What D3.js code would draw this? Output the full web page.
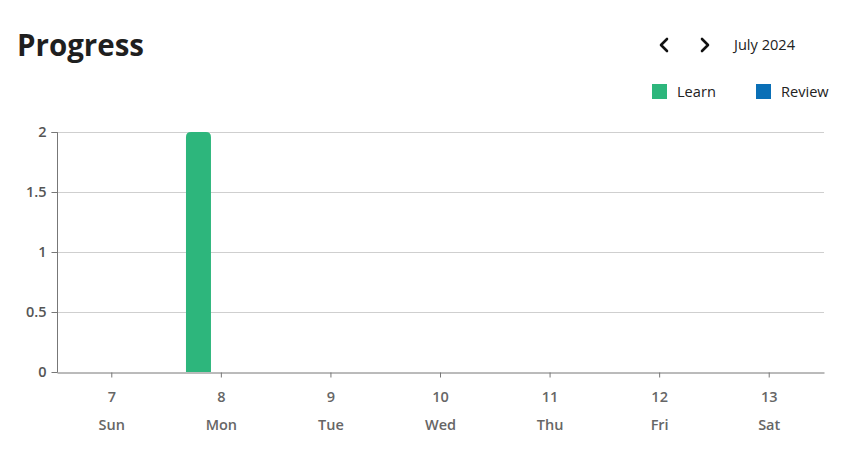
<!DOCTYPE html>
<html><head><meta charset="utf-8">
<script src="https://cdn.jsdelivr.net/npm/d3@7"></script>
<style>
body{margin:0;background:#fff;font-family:"Open Sans",sans-serif;}
</style></head>
<body><svg id="c" width="852" height="462"></svg>
<script>
const days = ["7","8","9","10","11","12","13"];
const dayNames = ["Sun","Mon","Tue","Wed","Thu","Fri","Sat"];
const seriesNames = ["Learn","Review"];
const learn = [0,2,0,0,0,0,0];
const review = [0,0,0,0,0,0,0];
const yTicks = [0,0.5,1,1.5,2];
const colors = ["#2db67c","#0a6fb6"];

const svg = d3.select("#c");
const x = d3.scaleBand().domain(days).range([57,824]).padding(0);
const x1 = d3.scaleBand().domain(seriesNames).range([0,x.bandwidth()]).paddingInner(0.454).paddingOuter(0.424);
const y = d3.scaleLinear().domain([0,2]).range([372,132]);

// title
svg.append("text").attr("x",17).attr("y",56).attr("font-size",29.5).attr("font-weight",700)
  .attr("fill","#1f1f1f").text("Progress");
// nav chevrons
svg.append("path").attr("d","M667,39 L661,45 L667,51").attr("fill","none").attr("stroke","#111").attr("stroke-width",2.6).attr("stroke-linecap","round").attr("stroke-linejoin","round");
svg.append("path").attr("d","M702,39 L708,45 L702,51").attr("fill","none").attr("stroke","#111").attr("stroke-width",2.6).attr("stroke-linecap","round").attr("stroke-linejoin","round");
svg.append("text").attr("x",734).attr("y",50).attr("font-size",14.6).attr("fill","#222").text("July 2024");

// legend
const legX=[652,756];
seriesNames.forEach((s,i)=>{
  svg.append("rect").attr("x",legX[i]).attr("y",84).attr("width",15).attr("height",15).attr("fill",colors[i]);
  svg.append("text").attr("x",legX[i]+25).attr("y",97).attr("font-size",14.6).attr("fill","#222").text(s);
});

// grid
svg.append("g").selectAll("line").data(yTicks.filter(d=>d>0)).join("line")
  .attr("x1",57).attr("x2",824).attr("y1",d=>Math.round(y(d))+0.5).attr("y2",d=>Math.round(y(d))+0.5)
  .attr("stroke","#cfcfcf").attr("stroke-width",1);

// bars
const data = days.map((d,i)=>({day:d,vals:[learn[i],review[i]]}));
const g = svg.append("g");
data.forEach(d=>{
  d.vals.forEach((v,j)=>{
    if(v<=0) return;
    const bx = x(d.day)+x1(seriesNames[j]), bw=x1.bandwidth();
    const top=y(v), bot=y(0), r=5;
    g.append("path").attr("fill",colors[j])
      .attr("d",`M${bx},${bot} L${bx},${top+r} Q${bx},${top} ${bx+r},${top} L${bx+bw-r},${top} Q${bx+bw},${top} ${bx+bw},${top+r} L${bx+bw},${bot} Z`);
  });
});

// y axis
const ya = svg.append("g").attr("transform","translate(57.5,0)")
  .call(d3.axisLeft(y).tickValues(yTicks).tickSize(6).tickPadding(5).tickFormat(d=>d3.format("~g")(d)));
ya.select(".domain").attr("stroke","#777").attr("d","M-6,132.5H0V372.5");
ya.selectAll(".tick line").attr("stroke","#777");
ya.selectAll(".tick text").attr("font-size",14.5).attr("font-weight",600).attr("fill","#555").attr("font-family","Open Sans");

// x axis
const xa = svg.append("g").attr("transform","translate(0,372.5)")
  .call(d3.axisBottom(x).tickSize(5).tickSizeOuter(0).tickPadding(14));
xa.select(".domain").attr("stroke","#777");
xa.selectAll(".tick line").attr("stroke","#777");
xa.selectAll(".tick text").attr("font-size",14.5).attr("font-weight",600).attr("fill","#666").attr("font-family","Open Sans");
xa.selectAll(".tick").append("text").attr("y",57).attr("fill","#666").attr("font-size",14.5).attr("font-weight",600)
  .attr("font-family","Open Sans").text((d,i)=>dayNames[i]);
</script></body></html>
